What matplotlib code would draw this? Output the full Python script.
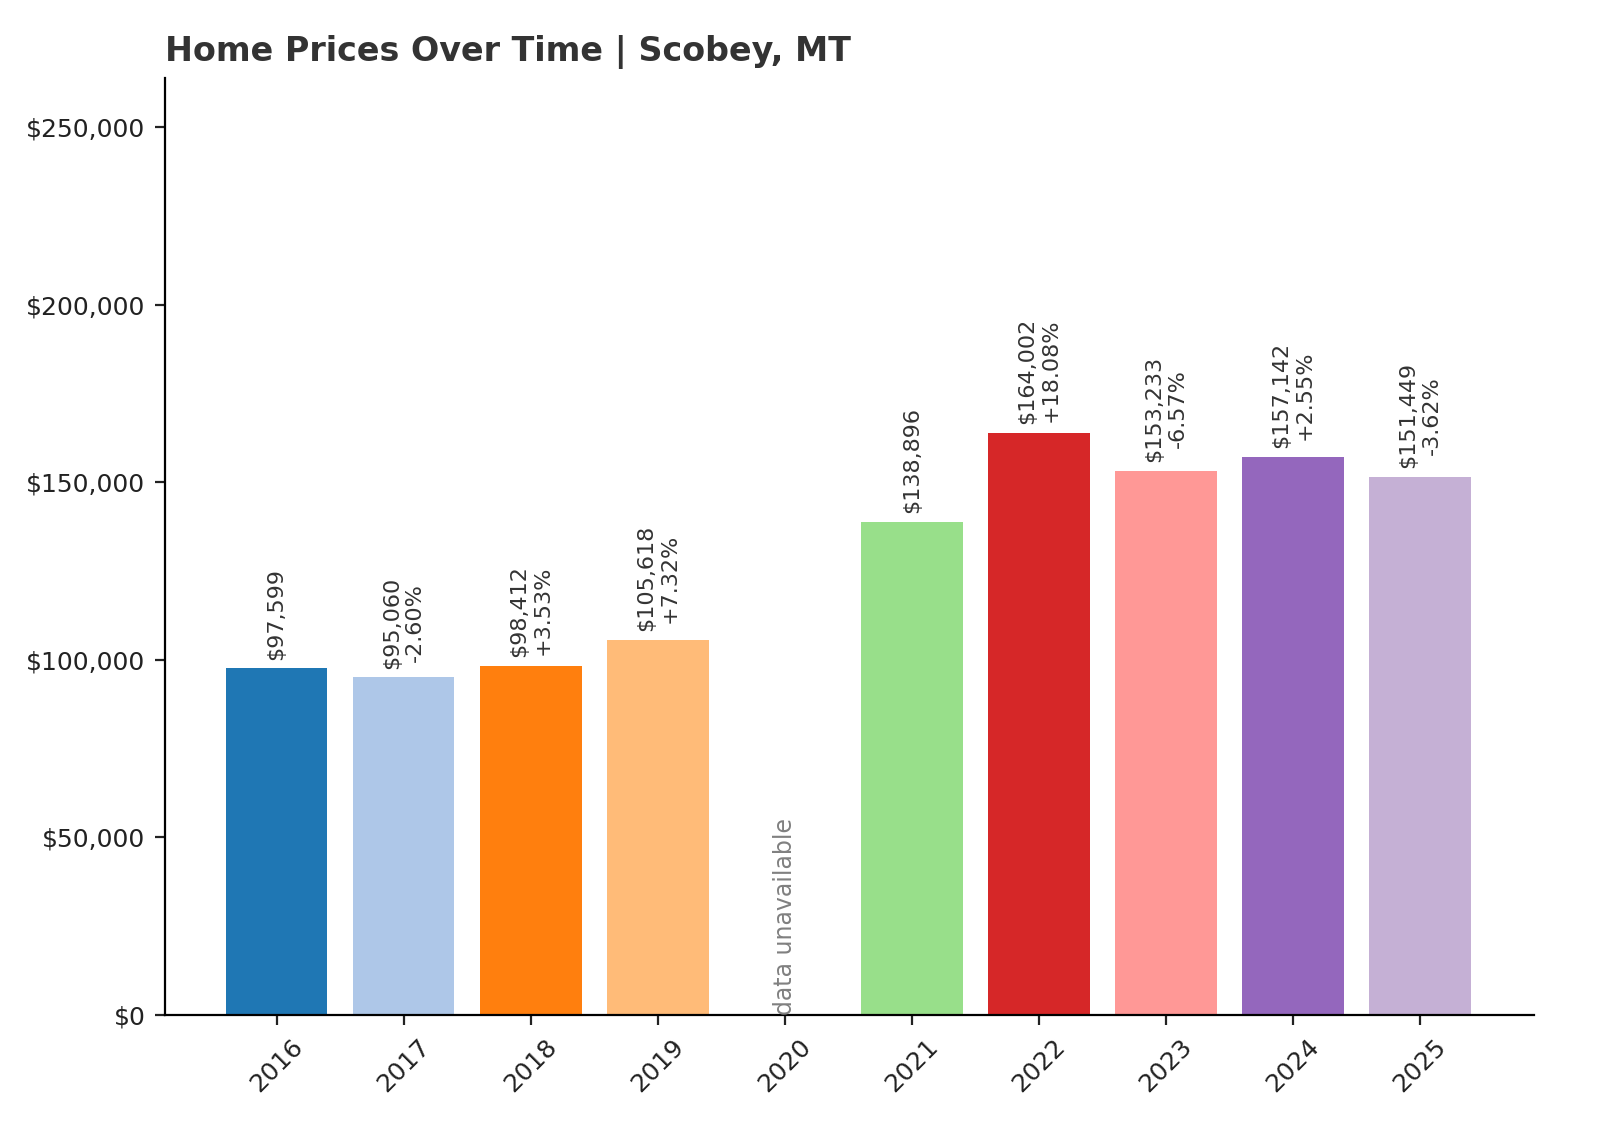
import matplotlib
matplotlib.use("Agg")
import matplotlib.pyplot as plt
import numpy as np

years = ["2016", "2017", "2018", "2019", "2020", "2021", "2022", "2023", "2024", "2025"]
prices = [97599, 95060, 98412, 105618, None, 138896, 164002, 153233, 157142, 151449]
changes = [None, "-2.60%", "+3.53%", "+7.32%", None, None, "+18.08%", "-6.57%", "+2.55%", "-3.62%"]

colors = plt.get_cmap("tab20").colors

fig = plt.figure(figsize=(8, 5.715), dpi=200)
ax = fig.add_axes([0.103, 0.112, 0.856, 0.820])

x = np.arange(len(years))
for i, (p, c) in enumerate(zip(prices, changes)):
    if p is None:
        ax.text(i, 0, "data unavailable", rotation=90, ha="center", va="bottom",
                fontsize=8.5, color="gray")
        continue
    ax.bar(i, p, width=0.8, color=colors[i])
    label = f"${p:,}" if c is None else f"${p:,}\n{c}"
    ax.text(i, p + 2500, label, rotation=90, ha="center", va="bottom",
            fontsize=8, color="#333333", linespacing=1.2)

ax.set_xticks(x)
ax.set_xticklabels(years, rotation=45)
ax.set_ylim(0, 264000)
ax.set_xlim(-0.88, 9.9)
ax.set_yticks(np.arange(0, 250001, 50000))
ax.yaxis.set_major_formatter(matplotlib.ticker.FuncFormatter(lambda v, _: f"${v:,.0f}"))
ax.tick_params(labelsize=9, colors="#222222")
for s in ["top", "right"]:
    ax.spines[s].set_visible(False)
ax.set_title("Home Prices Over Time | Scobey, MT", loc="left", fontsize=12,
             fontweight="bold", color="#333333")

fig.savefig("out.png", dpi=200)
